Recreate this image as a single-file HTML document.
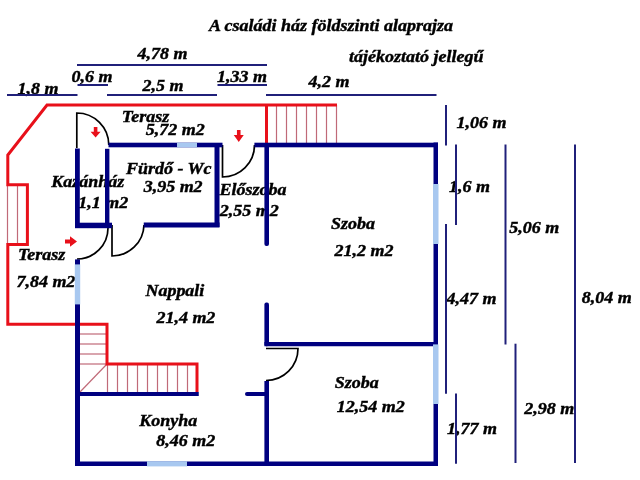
<!DOCTYPE html>
<html><head><meta charset="utf-8">
<style>
html,body{margin:0;padding:0;background:#fff;}
svg{display:block;will-change:transform;}
text{font-family:"Liberation Serif",serif;font-style:italic;font-weight:bold;font-size:18px;fill:#000;stroke:#000;stroke-width:0.45px;}
</style></head><body>
<svg width="640" height="480" viewBox="0 0 640 480">
<!-- texts -->
<text transform="translate(209.10 31.05) scale(1 0.87)">A családi ház földszinti alaprajza</text>
<text transform="translate(349.00 61.55) scale(1 0.87)">tájékoztató jellegű</text>
<text transform="translate(137.60 59.05) scale(1 0.87)">4,78 m</text>
<text transform="translate(71.60 82.30) scale(1 0.87)">0,6 m</text>
<text transform="translate(17.60 94.30) scale(1 0.87)">1,8 m</text>
<text transform="translate(142.60 90.80) scale(1 0.87)">2,5 m</text>
<text transform="translate(217.10 81.55) scale(1 0.87)">1,33 m</text>
<text transform="translate(308.60 87.20) scale(1 0.87)">4,2 m</text>
<text transform="translate(456.50 127.55) scale(1 0.87)">1,06 m</text>
<text transform="translate(449.00 192.20) scale(1 0.87)">1,6 m</text>
<text transform="translate(509.30 233.30) scale(1 0.87)">5,06 m</text>
<text transform="translate(446.60 304.05) scale(1 0.87)">4,47 m</text>
<text transform="translate(581.80 302.80) scale(1 0.87)">8,04 m</text>
<text transform="translate(447.10 434.05) scale(1 0.87)">1,77 m</text>
<text transform="translate(524.35 414.05) scale(1 0.87)">2,98 m</text>
<text transform="translate(121.85 122.40) scale(1 0.87)">Terasz</text>
<text transform="translate(145.85 135.40) scale(1 0.87)">5,72 m2</text>
<text transform="translate(125.90 173.90) scale(1 0.87)">Fürdő - Wc</text>
<text transform="translate(143.65 192.30) scale(1 0.87)">3,95 m2</text>
<text transform="translate(51.20 186.55) scale(1 0.87)">Kazánház</text>
<text transform="translate(78.20 207.80) scale(1 0.87)">1,1 m2</text>
<text transform="translate(219.40 194.95) scale(1 0.87)">Előszoba</text>
<text transform="translate(219.80 215.80) scale(1 0.87)">2,55 m2</text>
<text transform="translate(331.00 228.90) scale(1 0.87)">Szoba</text>
<text transform="translate(334.60 255.80) scale(1 0.87)">21,2 m2</text>
<text transform="translate(17.90 260.00) scale(1 0.87)">Terasz</text>
<text transform="translate(16.40 286.90) scale(1 0.87)">7,84 m2</text>
<text transform="translate(145.40 295.75) scale(1 0.87)">Nappali</text>
<text transform="translate(156.40 323.00) scale(1 0.87)">21,4 m2</text>
<text transform="translate(334.80 388.10) scale(1 0.87)">Szoba</text>
<text transform="translate(336.80 411.90) scale(1 0.87)">12,54 m2</text>
<text transform="translate(139.35 425.70) scale(1 0.87)">Konyha</text>
<text transform="translate(156.20 446.30) scale(1 0.87)">8,46 m2</text>
<!-- dimension lines -->
<g stroke="#20207a" stroke-width="2" fill="none">
<line x1="77" y1="65" x2="267" y2="65"/>
<line x1="77.5" y1="85" x2="108" y2="85"/>
<line x1="217.5" y1="85" x2="267" y2="85"/>
<line x1="7" y1="95" x2="77.5" y2="95"/>
<line x1="107" y1="95" x2="217" y2="95"/>
<line x1="266" y1="95" x2="436.5" y2="95"/>
<line x1="446" y1="105" x2="446" y2="145.6"/>
<line x1="446" y1="224" x2="446" y2="393.7"/>
<line x1="456" y1="144.4" x2="456" y2="225"/>
<line x1="456" y1="393.5" x2="456" y2="463.7"/>
<line x1="505.5" y1="144.5" x2="505.5" y2="344.5"/>
<line x1="515.5" y1="343.7" x2="515.5" y2="463"/>
<line x1="575" y1="144.5" x2="575" y2="463"/>
</g>
<!-- thin stair lines -->
<g stroke="#c06a78" stroke-width="1.2" fill="none">
<line x1="276.5" y1="105" x2="276.5" y2="143"/>
<line x1="286.5" y1="105" x2="286.5" y2="143"/>
<line x1="296.5" y1="105" x2="296.5" y2="143"/>
<line x1="306.5" y1="105" x2="306.5" y2="143"/>
<line x1="316.5" y1="105" x2="316.5" y2="143"/>
<line x1="326.5" y1="105" x2="326.5" y2="143"/>
<line x1="336.5" y1="105" x2="336.5" y2="143"/>
<line x1="7.5" y1="185" x2="7.5" y2="244.5"/>
<line x1="17.5" y1="185" x2="17.5" y2="244.5"/>
<line x1="80" y1="334" x2="107" y2="334"/>
<line x1="80" y1="344" x2="107" y2="344"/>
<line x1="80" y1="354" x2="107" y2="354"/>
<line x1="80" y1="364" x2="107" y2="364"/>
<line x1="107" y1="364" x2="80" y2="392"/>
<line x1="107.5" y1="364" x2="107.5" y2="392"/>
<line x1="117.5" y1="364" x2="117.5" y2="392"/>
<line x1="127.5" y1="364" x2="127.5" y2="392"/>
<line x1="137.5" y1="364" x2="137.5" y2="392"/>
<line x1="147.5" y1="364" x2="147.5" y2="392"/>
<line x1="157.5" y1="364" x2="157.5" y2="392"/>
<line x1="167.5" y1="364" x2="167.5" y2="392"/>
<line x1="177.5" y1="364" x2="177.5" y2="392"/>
<line x1="187.5" y1="364" x2="187.5" y2="392"/>
</g>
<!-- red outline -->
<g stroke="#e8101a" stroke-width="3" fill="none" stroke-linejoin="miter">
<polyline points="77.5,324.2 7.8,324.2 7.8,244.5 27.4,244.5 27.4,184.8 7.8,184.8 7.8,155 47,105 337,105"/>
<line x1="266.5" y1="105" x2="266.5" y2="145"/>
<polyline points="77.5,324.2 107,324.2 107,364 197,364 197,392"/>
</g>
<!-- doors -->
<g stroke="#000" stroke-width="1.7" fill="none">
<path d="M76.8,148 L76.8,113 A32,32 0 0 1 108.8,145"/>
<path d="M222.5,145 L222.5,177 A32,32 0 0 0 254.5,145"/>
<path d="M108,228 A31,31 0 0 1 77,259"/>
<path d="M112,225 L112,256 A32,32 0 0 0 144,225"/>
<path d="M266,348.5 L298,348.5 A32,32 0 0 1 266,380.5"/>
</g>
<!-- walls -->
<g fill="#000080">
<rect x="108.5" y="142.7" width="114" height="4.6"/>
<rect x="254.4" y="142.7" width="183.6" height="4.6"/>
<rect x="433.5" y="142.5" width="4.5" height="323.5"/>
<rect x="75" y="461.5" width="363" height="4.5"/>
<rect x="75" y="148.5" width="4.8" height="79.5"/>
<rect x="75" y="259.4" width="5" height="206.6"/>
<rect x="105" y="148.8" width="4.4" height="78.7"/>
<rect x="75" y="222.7" width="37" height="5.5"/>
<rect x="143.75" y="222.5" width="75.75" height="5"/>
<rect x="214.5" y="145" width="5" height="82"/>
<rect x="264.4" y="145" width="4.6" height="101" rx="2"/>
<rect x="264.4" y="302.5" width="4.6" height="43.75" rx="2"/>
<rect x="264.4" y="342" width="173.6" height="4.25"/>
<rect x="264.4" y="381" width="4.6" height="85"/>
<rect x="75" y="392" width="123.75" height="4"/>
<rect x="245" y="392" width="24" height="4" rx="2"/>
</g>
<!-- windows -->
<g fill="#a8c8f0">
<rect x="177" y="142.7" width="20" height="4.6"/>
<rect x="433" y="184" width="5.5" height="60"/>
<rect x="433" y="344.4" width="5.5" height="59.6"/>
<rect x="147" y="461.2" width="40" height="5.2"/>
<rect x="74.8" y="264.4" width="5.4" height="40"/>
</g>
<!-- arrows -->
<g fill="#e8101a">
<path d="M93.8,127 h3.6 v4.8 h3.2 l-5,5.7 l-5,-5.7 h3.2 z"/>
<path d="M236.95,130 h3.6 v5 h3.2 l-5,7 l-5,-7 h3.2 z"/>
<path d="M65,239.5 h5 v-3.3 l7,5.3 l-7,5.3 v-3.3 h-5 z"/>
</g>
</svg>
</body></html>
